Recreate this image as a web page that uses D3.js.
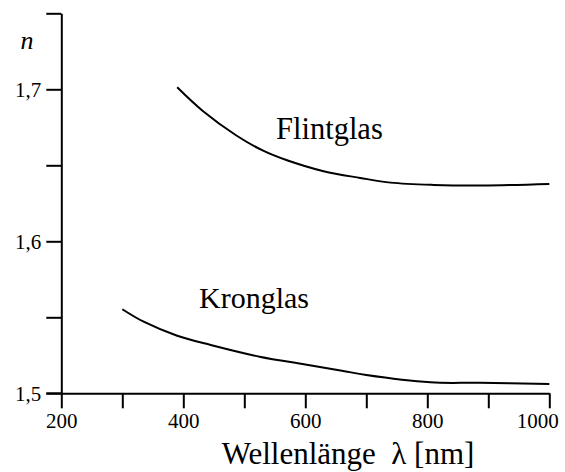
<html>
<head>
<title>Brechungsindex</title>
<script src="https://d3js.org/d3.v7.min.js"></script>
<style>
body { margin: 0; background: white; }
svg text { font-family: "Liberation Serif", "Times New Roman", serif; fill: black; }
.axis path, .axis line { stroke: black; stroke-width: 2; }
</style>
</head>
<body>
<svg width="565" height="472"></svg>
<script>
// Wellenlänge (nm) und Brechzahl n
var flintWl = [390, 432, 487, 530, 570, 630, 690, 740, 810, 890, 1000];
var flintN  = [1.7013, 1.6857, 1.6696, 1.6598, 1.6533, 1.6461, 1.6417, 1.6386, 1.6371, 1.6367, 1.6377];
var kronWl  = [300, 335, 390, 445, 525, 600, 660, 700, 805, 885, 1000];
var kronN   = [1.5553, 1.5471, 1.5379, 1.5318, 1.5241, 1.5190, 1.5149, 1.5120, 1.5072, 1.5069, 1.5062];
var xTicks = [200, 300, 400, 500, 600, 700, 800, 900, 1000];
var xLabels = [200, 400, 600, 800, 1000];
var yTicks = [1.5, 1.55, 1.6, 1.65, 1.7, 1.75];
var yLabels = [1.5, 1.6, 1.7];

var svg = d3.select("svg");
var x = d3.scaleLinear().domain([200, 1000]).range([61.3, 549.3]);
var y = d3.scaleLinear().domain([1.5, 1.75]).range([393.3, 13.3]);

var fmtY = function(d) { return yLabels.some(function(v) { return Math.abs(v - d) < 1e-9; }) ? d3.format(".1f")(d).replace(".", ",") : ""; };
var fmtX = function(d) { return xLabels.indexOf(d) >= 0 ? d : ""; };

var xAxis = svg.append("g").attr("class", "axis")
  .attr("transform", "translate(0,393.3)")
  .call(d3.axisBottom(x).tickValues(xTicks).tickFormat(fmtX).tickSize(15).tickSizeOuter(0).tickPadding(5));

var yAxis = svg.append("g").attr("class", "axis")
  .attr("transform", "translate(61.3,0)")
  .call(d3.axisLeft(y).tickValues(yTicks).tickFormat(fmtY).tickSize(15).tickSizeOuter(0).tickPadding(5));

[xAxis, yAxis].forEach(function(g) {
  g.attr("font-family", "Liberation Serif, Times New Roman, serif").attr("font-size", 21);
});

// letzte Beschriftung "1000" etwas nach links, damit sie ins Bild passt
xAxis.selectAll(".tick text").filter(function(d) { return d === 1000; }).attr("dx", -12);

// x-Achse ragt links etwas über die y-Achse hinaus
svg.append("line")
  .attr("x1", x(200) - 15).attr("x2", x(200))
  .attr("y1", y(1.5)).attr("y2", y(1.5))
  .attr("stroke", "black").attr("stroke-width", 2);

var line = d3.line()
  .x(function(d) { return x(d[0]); })
  .y(function(d) { return y(d[1]); })
  .curve(d3.curveCatmullRom);

svg.append("path")
  .datum(d3.zip(flintWl, flintN))
  .attr("d", line).attr("fill", "none").attr("stroke", "black").attr("stroke-width", 2);

svg.append("path")
  .datum(d3.zip(kronWl, kronN))
  .attr("d", line).attr("fill", "none").attr("stroke", "black").attr("stroke-width", 2);

svg.append("text").attr("x", 276).attr("y", 139)
  .style("font-size", "30.5px").text("Flintglas");

svg.append("text").attr("x", 199).attr("y", 308)
  .style("font-size", "30px").text("Kronglas");

svg.append("text").attr("x", 27).attr("y", 49)
  .attr("text-anchor", "middle")
  .style("font-size", "26px").style("font-style", "italic").text("n");

svg.append("text").attr("x", 348).attr("y", 464)
  .attr("text-anchor", "middle")
  .attr("xml:space", "preserve")
  .style("white-space", "pre")
  .style("font-size", "31px").text("Wellenlänge  λ [nm]");
</script>
</body>
</html>
